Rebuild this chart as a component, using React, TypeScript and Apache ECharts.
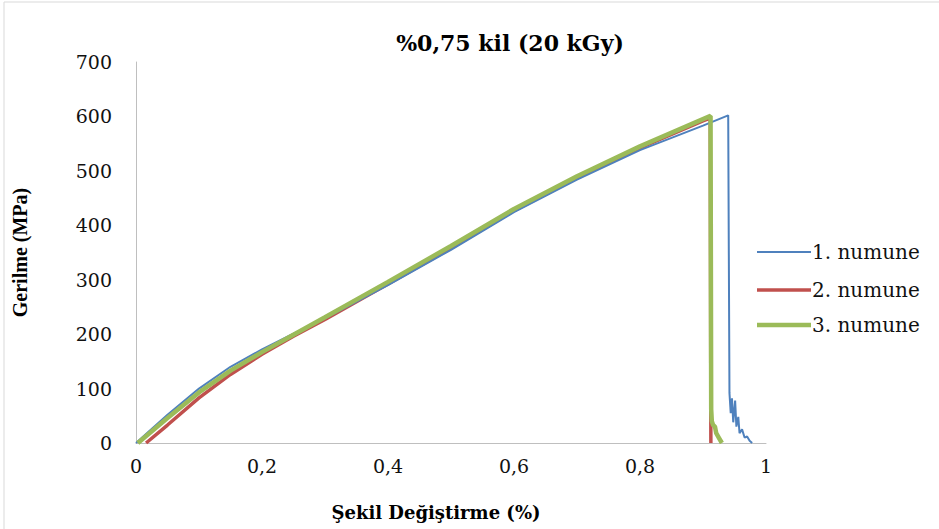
import React, { useEffect, useRef } from "react";
import * as echarts from "echarts";

const titleText = "%0,75 kil (20 kGy)";
const xAxisName = "Şekil Değiştirme (%)";
const yAxisName = "Gerilme (MPa)";
const seriesNames = ["1. numune", "2. numune", "3. numune"];
const seriesColors = ["#4F81BD", "#C0504D", "#9BBB59"];
const seriesWidths = [2, 3.5, 4.5];

const numune1: [number, number][] = [
  [0, 0], [0.05, 52], [0.1, 100], [0.15, 140], [0.2, 172], [0.25, 201], [0.3, 229],
  [0.4, 290], [0.5, 355], [0.6, 424], [0.7, 484], [0.8, 538], [0.9, 583], [0.94, 602],
  [0.942, 92], [0.944, 55], [0.946, 82], [0.948, 38], [0.951, 78], [0.953, 30],
  [0.956, 48], [0.958, 18], [0.962, 25], [0.966, 10], [0.97, 12], [0.974, 4], [0.978, 0],
];
const numune2: [number, number][] = [
  [0.016, 0], [0.05, 33], [0.1, 83], [0.15, 126], [0.2, 163], [0.25, 196], [0.3, 227],
  [0.4, 292], [0.5, 358], [0.6, 427], [0.7, 487], [0.8, 542], [0.9, 592], [0.9115, 597],
  [0.9125, 0],
];
const numune3: [number, number][] = [
  [0.003, 0], [0.05, 46], [0.1, 93], [0.15, 133], [0.2, 167], [0.25, 199], [0.3, 231],
  [0.4, 296], [0.5, 362], [0.6, 430], [0.7, 490], [0.8, 545], [0.9, 595], [0.912, 601],
  [0.913, 62], [0.914, 40], [0.916, 33], [0.919, 30], [0.921, 18], [0.925, 10], [0.93, 0],
];

const serifT = "'Liberation Serif', 'Times New Roman', serif";
const serifW = "'DejaVu Serif', serif";

const legendCenters = [250, 288, 323];

export default function App() {
  const ref = useRef<HTMLDivElement>(null);
  useEffect(() => {
    if (!ref.current) return;
    const chart = echarts.init(ref.current, undefined, { renderer: "svg" });
    chart.setOption({
      animation: false,
      backgroundColor: "#fff",
      graphic: [
        { type: "line", shape: { x1: 4, y1: 2, x2: 939, y2: 2 }, style: { stroke: "#d9d9d9", lineWidth: 1 } },
        { type: "line", shape: { x1: 4, y1: 2, x2: 4, y2: 529 }, style: { stroke: "#d9d9d9", lineWidth: 1 } },
      ],
      title: {
        text: titleText,
        left: 505,
        textAlign: "center",
        top: 27,
        textStyle: { fontFamily: serifW, fontWeight: "bold", fontSize: 22, color: "#000" },
      },
      grid: { left: 136, right: 173, top: 62, bottom: 86 },
      legend: seriesNames.map((n, i) => ({
        orient: "vertical",
        left: 752,
        top: legendCenters[i] - 13,
        itemWidth: 54,
        itemHeight: seriesWidths[i],
        icon: "rect",
        textStyle: { fontFamily: serifW, fontSize: 20, color: "#111", padding: [0, 0, 0, -4] },
        data: [n],
      })),
      xAxis: {
        type: "value",
        min: 0,
        max: 1,
        interval: 0.2,
        name: xAxisName,
        nameLocation: "middle",
        nameGap: 60,
        nameTextStyle: {
          fontFamily: serifW, fontWeight: "bold", fontSize: 18, color: "#000", padding: [0, 30, 0, 0],
        },
        axisLine: { show: true, lineStyle: { color: "#bfbfbf", width: 1 } },
        axisTick: { show: false },
        splitLine: { show: false },
        axisLabel: {
          margin: 13,
          fontFamily: serifW,
          fontSize: 19,
          color: "#111",
          formatter: (v: number) => String(Math.round(v * 10) / 10).replace(".", ","),
        },
      },
      yAxis: {
        type: "value",
        min: 0,
        max: 700,
        interval: 100,
        name: yAxisName,
        nameLocation: "middle",
        nameGap: 106,
        nameTextStyle: { fontFamily: serifT, fontWeight: "bold", fontSize: 20, color: "#000" },
        axisLine: { show: true, lineStyle: { color: "#bfbfbf", width: 1 } },
        axisTick: { show: false },
        splitLine: { show: false },
        axisLabel: { margin: 24, fontFamily: serifW, fontSize: 19, color: "#111" },
      },
      series: [
        {
          name: seriesNames[0], type: "line", data: numune1, showSymbol: false, symbol: "none",
          lineStyle: { color: seriesColors[0], width: seriesWidths[0] }, itemStyle: { color: seriesColors[0] }, z: 3,
        },
        {
          name: seriesNames[1], type: "line", data: numune2, showSymbol: false, symbol: "none",
          lineStyle: { color: seriesColors[1], width: seriesWidths[1] }, itemStyle: { color: seriesColors[1] }, z: 2,
        },
        {
          name: seriesNames[2], type: "line", data: numune3, showSymbol: false, symbol: "none",
          lineStyle: { color: seriesColors[2], width: seriesWidths[2] }, itemStyle: { color: seriesColors[2] }, z: 4,
        },
      ],
    });
    return () => chart.dispose();
  }, []);
  return <div ref={ref} style={{ width: 939, height: 529, position: "absolute", left: 0, top: 0 }} />;
}
